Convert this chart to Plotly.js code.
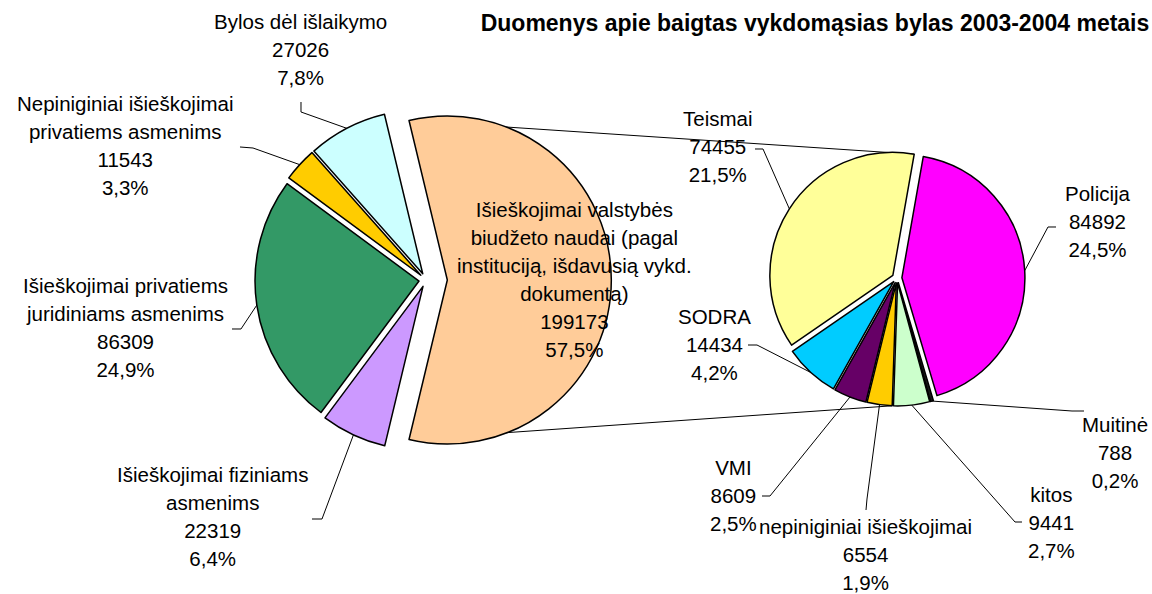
<!DOCTYPE html>
<html>
<head>
<meta charset="utf-8">
<script src="https://cdn.plot.ly/plotly-3.0.1.min.js"></script>
<style>html,body{margin:0;padding:0;background:#fff}#chart{width:1152px;height:594px}</style>
</head>
<body>
<div id="chart"></div>
<script>
// ---------------- DATA ----------------
const titleText = 'Duomenys apie baigtas vykdomąsias bylas 2003-2004 metais';

// first pie (all finished enforcement cases)
const mainLabels = [
  'Išieškojimai valstybės\nbiudžeto naudai (pagal\ninstituciją, išdavusią vykd.\ndokumentą)',
  'Išieškojimai fiziniams\nasmenims',
  'Išieškojimai privatiems\njuridiniams asmenims',
  'Nepiniginiai išieškojimai\nprivatiems asmenims',
  'Bylos dėl išlaikymo'
];
const mainValues = [199173, 22319, 86309, 11543, 27026];

// second pie (breakdown of the state-budget slice by issuing institution)
const subLabels = ['Policija', 'Muitinė', 'kitos', 'nepiniginiai išieškojimai', 'VMI', 'SODRA', 'Teismai'];
const subValues = [84892, 788, 9441, 6554, 8609, 14434, 74455];

// ---------------- STYLE / LAYOUT ----------------
const mainColors = ['#FFCC99', '#CC99FF', '#339966', '#FFCC00', '#CCFFFF'];
const subColors  = ['#FF00FF', '#1a1a1a', '#CCFFCC', '#FFCC00', '#660066', '#00CCFF', '#FFFF99'];

const W = 1152, H = 594, LINE = 28, LABEL_SIZE = 20.5;
const Lp = {cx: 426, cy: 280, r: 164};
const Rp = {cx: 897, cy: 278, r: 123};
const mainPull = [0.13, 0.043, 0.043, 0.043, 0.043];
const subPull = subValues.map(() => 0.04);

const sum = a => a.reduce((s, v) => s + v, 0);
const grandTotal = sum(mainValues);
const mainRotation = 90 - 180 * mainValues[0] / grandTotal;   // split slice centred at 3 o'clock
const subRotation = 10;

// label positions (pixel centre of first text line) + leader elbow points
const mainLabelPos = [
  {x: 574, y: 209, lead: null},
  {x: 212, y: 474, lead: [[312, 519], [322, 519]]},
  {x: 125, y: 285, lead: [[232, 329], [241, 329]]},
  {x: 125, y: 103, lead: [[240, 147], [253, 148]]},
  {x: 300, y: 22,  lead: [[301, 102], [301, 112]]}
];
const subLabelPos = [
  {x: 1098, y: 194, lead: [[1056, 227], [1048, 227]]},
  {x: 1115, y: 424, lead: [[1084, 411], [1072, 411]]},
  {x: 1051, y: 494, lead: [[1022, 522], [1015, 522]]},
  {x: 865,  y: 526, lead: [[866, 510], [867, 499]]},
  {x: 733,  y: 467, lead: [[762, 496], [770, 496]]},
  {x: 714,  y: 316, lead: [[748, 345], [757, 345]]},
  {x: 718,  y: 118, lead: [[755, 149], [763, 149]]}
];

// ---------------- GEOMETRY HELPERS ----------------
const px = x => x / W;
const py = y => 1 - y / H;
function domainOf(p, pulls) {
  const half = p.r * (1 + Math.max(...pulls));
  return {x: [px(p.cx - half), px(p.cx + half)], y: [py(p.cy + half), py(p.cy - half)]};
}
const rad = d => d * Math.PI / 180;
function sliceAngles(values, rotation) {
  const t = sum(values); let c = 0;
  return values.map(v => { const s = rotation + 360 * c / t; c += v; const e = rotation + 360 * c / t; return {s, e, m: (s + e) / 2}; });
}
function vertex(p, ang, pull) {
  return [p.cx + pull * p.r * Math.sin(rad(ang.m)), p.cy - pull * p.r * Math.cos(rad(ang.m))];
}
function edgePoint(p, ang, pull, a, extra) {
  const v = vertex(p, ang, pull); const rr = p.r + (extra || 0);
  return [v[0] + rr * Math.sin(rad(a)), v[1] - rr * Math.cos(rad(a))];
}
function pointAt(p, angs, pulls, a) {
  let i = angs.findIndex(g => a >= g.s && a < g.e);
  if (i < 0) i = angs.findIndex(g => a + 360 >= g.s && a + 360 < g.e);
  if (i < 0) i = 0;
  return edgePoint(p, angs[i], pulls[i], a);
}
const fmtPct = v => (100 * v / grandTotal).toFixed(1).replace('.', ',');

const mainAng = sliceAngles(mainValues, mainRotation);
const subAng = sliceAngles(subValues, subRotation);

// ---------------- TRACES ----------------
const traces = [
  {
    type: 'pie', sort: false, direction: 'clockwise', rotation: mainRotation,
    labels: mainLabels.map(l => l.replace(/\n/g, ' ')), values: mainValues,
    marker: {colors: mainColors, line: {color: '#000', width: 1.5}},
    pull: mainPull, textinfo: 'none', hoverinfo: 'label+value',
    domain: domainOf(Lp, mainPull)
  },
  {
    type: 'pie', sort: false, direction: 'clockwise', rotation: subRotation,
    labels: subLabels, values: subValues,
    marker: {colors: subColors, line: {color: '#000', width: 1.5}},
    pull: subPull, textinfo: 'none', hoverinfo: 'label+value',
    domain: domainOf(Rp, subPull)
  }
];

// ---------------- ANNOTATIONS + LEADER LINES ----------------
const annotations = [];
const shapes = [];
function addLabel(lab, val, pos, p, ang, pull) {
  const lines = lab.split('\n').concat([String(val), fmtPct(val) + '%']);
  const yc = pos.y + (lines.length - 1) * LINE / 2;
  annotations.push({
    xref: 'paper', yref: 'paper', x: px(pos.x), y: py(yc), xanchor: 'center', yanchor: 'middle',
    showarrow: false, align: 'center',
    text: lines.map(l => '<span style="font-size:' + LABEL_SIZE + 'px">' + l + '</span>').join('<br>'),
    font: {family: 'Arial, Liberation Sans, sans-serif', size: LINE / 1.3, color: '#000'}
  });
  if (pos.lead) {
    const a = edgePoint(p, ang, pull, ang.m);
    const pts = pos.lead.concat([a]);
    const d = pts.map((q, k) => (k ? 'L' : 'M') + px(q[0]).toFixed(5) + ',' + py(q[1]).toFixed(5)).join(' ');
    shapes.push({type: 'path', xref: 'paper', yref: 'paper', path: d, line: {color: '#000', width: 1}});
  }
}
mainLabels.forEach((l, i) => addLabel(l, mainValues[i], mainLabelPos[i], Lp, mainAng[i], mainPull[i]));
subLabels.forEach((l, i) => addLabel(l, subValues[i], subLabelPos[i], Rp, subAng[i], subPull[i]));

// series lines joining the split slice to the second pie
const oTop = edgePoint(Lp, mainAng[0], mainPull[0], mainAng[0].s);
const oBot = edgePoint(Lp, mainAng[0], mainPull[0], mainAng[0].e);
const sTop = pointAt(Rp, subAng, subPull, subRotation - 0.01 + 360);
const sBot = pointAt(Rp, subAng, subPull, 182);
[[oTop, sTop], [oBot, sBot]].forEach(([a, b]) => shapes.push({
  type: 'line', xref: 'paper', yref: 'paper', layer: 'below',
  x0: px(a[0]), y0: py(a[1]), x1: px(b[0]), y1: py(b[1]), line: {color: '#000', width: 1}
}));

const layout = {
  width: W, height: H, margin: {l: 0, r: 0, t: 0, b: 0},
  paper_bgcolor: '#fff', showlegend: false,
  title: {
    text: titleText, xref: 'container', yref: 'container', x: 815 / W, xanchor: 'center',
    y: 1 - 23 / H, yanchor: 'middle',
    font: {family: 'Arial, Liberation Sans, sans-serif', size: 23, color: '#000', weight: 'bold'}
  },
  annotations, shapes
};

Plotly.newPlot('chart', traces, layout, {displayModeBar: false, staticPlot: true});
</script>
</body>
</html>
